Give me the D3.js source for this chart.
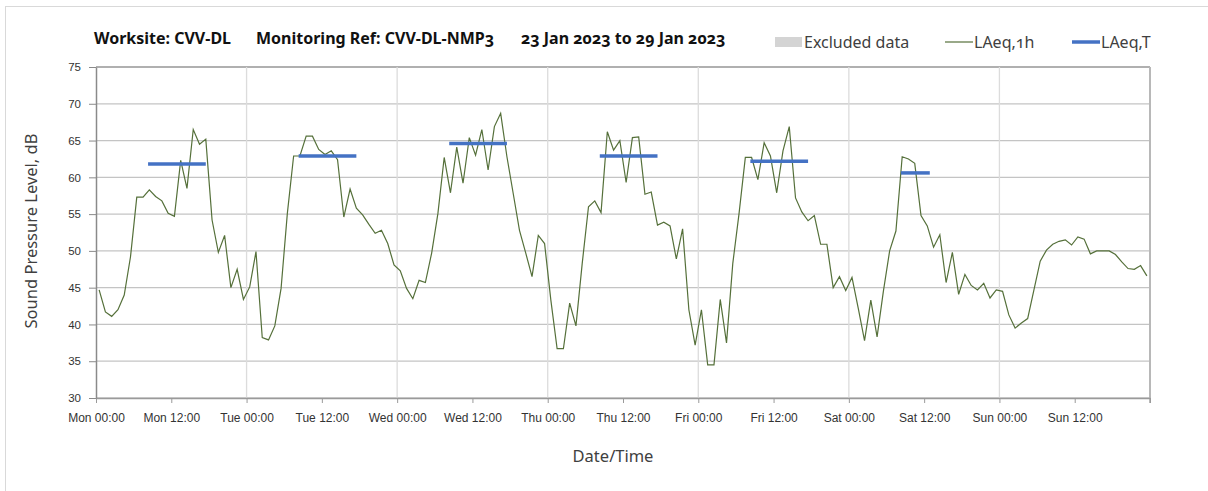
<!DOCTYPE html>
<html>
<head>
<meta charset="utf-8">
<script src="https://cdn.jsdelivr.net/npm/d3@7"></script>
<style>
	body { margin: 0; background: #fff; }
	svg { display: block; font-family: "Noto Sans", "Open Sans", sans-serif; font-variant-numeric: oldstyle-nums; }
</style>
</head>
<body>
<div id="container"></div>
<script>
//// Noise monitoring chart D3.js ////

// Hourly LAeq,1h values, Mon 23 Jan 2023 00:00 onwards
const laeq1h = [
	44.7, 41.7, 41.1, 42.0, 44.0, 49.2, 57.3, 57.3, 58.3, 57.4,
	56.8, 55.1, 54.7, 62.3, 58.5, 66.5, 64.5, 65.2, 54.2, 49.8,
	52.1, 45.0, 47.5, 43.4, 45.1, 49.9, 38.2, 37.9, 39.8, 44.9,
	55.1, 62.9, 62.9, 65.6, 65.6, 63.8, 63.1, 63.6, 62.4, 54.6,
	58.4, 55.8, 54.9, 53.6, 52.4, 52.8, 51.0, 48.1, 47.3, 44.9,
	43.5, 46.0, 45.7, 49.7, 55.1, 62.7, 57.9, 64.1, 59.2, 65.4,
	63.0, 66.5, 61.0, 66.9, 68.7, 62.8, 57.8, 52.8, 49.7, 46.5,
	52.1, 51.0, 43.3, 36.7, 36.7, 42.9, 39.8, 48.3, 56.0, 56.8,
	55.2, 66.2, 63.7, 65.0, 59.3, 65.4, 65.5, 57.7, 58.0, 53.5,
	53.9, 53.4, 48.9, 53.0, 42.0, 37.2, 42.0, 34.5, 34.5, 43.4,
	37.5, 48.3, 55.1, 62.7, 62.7, 59.7, 64.7, 62.9, 57.9, 63.6,
	66.9, 57.2, 55.3, 54.1, 54.8, 50.9, 50.9, 45.0, 46.5, 44.6,
	46.4, 42.2, 37.8, 43.3, 38.3, 44.5, 50.0, 52.7, 62.8, 62.5,
	61.9, 54.8, 53.4, 50.5, 52.2, 45.7, 49.8, 44.1, 46.8, 45.3,
	44.7, 45.6, 43.6, 44.7, 44.5, 41.3, 39.5, 40.2, 40.8, 44.7,
	48.6, 50.1, 50.9, 51.3, 51.5, 50.8, 51.9, 51.6, 49.6, 50.0,
	50.0, 50.0, 49.5, 48.5, 47.6, 47.5, 48.0, 46.6
];

// Daytime LAeq,T per day (Mon..Sat), start / end hour of each period
const periodDay   = [0, 1, 2, 3, 4, 5];
const periodValue = [61.8, 62.9, 64.6, 62.9, 62.2, 60.6];
const periodStart = [8.3, 8.3, 8.3, 8.3, 8.3, 8.3];
const periodEnd   = [17.5, 17.5, 17.5, 17.5, 17.5, 12.9];

const tickLabels = ["Mon 00:00", "Mon 12:00", "Tue 00:00", "Tue 12:00", "Wed 00:00", "Wed 12:00",
	"Thu 00:00", "Thu 12:00", "Fri 00:00", "Fri 12:00", "Sat 00:00", "Sat 12:00", "Sun 00:00", "Sun 12:00", ""];
const yTicks = [30, 35, 40, 45, 50, 55, 60, 65, 70, 75];

const legendItems = ["Excluded data", "LAeq,1h", "LAeq,T"];

const width = 1208, height = 491;
const plotLeft = 96, plotRight = 1150, plotTop = 67, plotBottom = 398;

const t0 = new Date(Date.UTC(2023, 0, 23));
const hour = h => new Date(t0.getTime() + h * 3600e3);

// Scales
const x = d3.scaleUtc().domain([t0, hour(168)]).range([plotLeft, plotRight]);
const y = d3.scaleLinear().domain([30, 75]).range([plotBottom, plotTop]);

const svg = d3.select("#container").append("svg")
	.attr("width", width)
	.attr("height", height);

// outer frame
svg.append("rect")
	.attr("x", 5.5).attr("y", 6.5)
	.attr("width", 1210).attr("height", 500)
	.attr("fill", "none").attr("stroke", "#d9d9d9");

// horizontal gridlines
svg.append("g")
	.selectAll("line")
	.data(yTicks)
	.join("line")
	.attr("x1", plotLeft).attr("x2", plotRight)
	.attr("y1", d => y(d)).attr("y2", d => y(d))
	.attr("stroke", d => d == 75 ? "#b0b0b0" : "#c4c4c4")
	.attr("stroke-width", d => d == 75 ? 2 : 1.3);

// vertical gridlines at midnight
const dayTicks = d3.range(1, 7).map(d => hour(d * 24));
svg.append("g")
	.selectAll("line")
	.data(dayTicks)
	.join("line")
	.attr("x1", d => x(d)).attr("x2", d => x(d))
	.attr("y1", plotTop).attr("y2", plotBottom)
	.attr("stroke", "#dcdcdc")
	.attr("stroke-width", 1.3);

// right border
svg.append("line")
	.attr("x1", plotRight).attr("x2", plotRight)
	.attr("y1", plotTop).attr("y2", plotBottom + 5)
	.attr("stroke", "#b8b8b8")
	.attr("stroke-width", 2);

// x axis
const xTicks = d3.range(0, 15).map(i => hour(i * 12));
const xAxis = svg.append("g")
	.attr("transform", `translate(0,${plotBottom})`)
	.call(d3.axisBottom(x).tickValues(xTicks).tickFormat((d, i) => tickLabels[i]).tickSize(5).tickPadding(10).tickSizeOuter(0));
xAxis.select(".domain").attr("stroke", "#9a9a9a").attr("stroke-width", 1.5);
xAxis.selectAll(".tick line").attr("stroke", "#9a9a9a");
xAxis.selectAll("text").attr("font-size", 12).attr("fill", "#333");

// y axis
const yAxis = svg.append("g")
	.attr("transform", `translate(${plotLeft},0)`)
	.call(d3.axisLeft(y).tickValues(yTicks).tickSize(7).tickPadding(8).tickSizeOuter(0));
yAxis.select(".domain").attr("stroke", "#8a8a8a").attr("stroke-width", 1.5);
yAxis.selectAll(".tick line").attr("stroke", "#8a8a8a");
yAxis.selectAll("text").attr("font-size", 11.5).attr("fill", "#333");

// LAeq,1h line
const line = d3.line()
	.x((d, i) => x(hour(i + 0.5)))
	.y(d => y(d));

svg.append("path")
	.datum(laeq1h)
	.attr("d", line)
	.attr("fill", "none")
	.attr("stroke", "#55703a")
	.attr("stroke-width", 1.2)
	.attr("stroke-linejoin", "miter");

// LAeq,T bars
svg.append("g")
	.selectAll("line")
	.data(periodDay)
	.join("line")
	.attr("x1", (d, i) => x(hour(d * 24 + periodStart[i])))
	.attr("x2", (d, i) => x(hour(d * 24 + periodEnd[i])))
	.attr("y1", (d, i) => y(periodValue[i]))
	.attr("y2", (d, i) => y(periodValue[i]))
	.attr("stroke", "#4472c4")
	.attr("stroke-width", 3.5);

// Title
const title = svg.append("g")
	.attr("font-weight", "bold")
	.attr("font-size", 16)
	.attr("fill", "#111");
title.append("text").attr("x", 94).attr("y", 44).text("Worksite: CVV-DL");
title.append("text").attr("x", 256).attr("y", 44).text("Monitoring Ref: CVV-DL-NMP3");
title.append("text").attr("x", 521).attr("y", 44).text("23 Jan 2023 to 29 Jan 2023");

// Legend
const legend = svg.append("g").attr("font-size", 16).attr("fill", "#404040");
legend.append("rect")
	.attr("x", 775).attr("y", 37).attr("width", 27).attr("height", 10)
	.attr("fill", "#d4d4d4");
legend.append("line")
	.attr("x1", 945).attr("x2", 973).attr("y1", 42).attr("y2", 42)
	.attr("stroke", "#55703a").attr("stroke-width", 1.2);
legend.append("line")
	.attr("x1", 1072).attr("x2", 1100).attr("y1", 42).attr("y2", 42)
	.attr("stroke", "#4472c4").attr("stroke-width", 3.5);
legend.selectAll("text")
	.data(legendItems)
	.join("text")
	.attr("x", (d, i) => [804, 974, 1101][i])
	.attr("y", 48)
	.text(d => d);

// Axis titles
svg.append("text")
	.attr("transform", "translate(37,231) rotate(-90)")
	.attr("text-anchor", "middle")
	.attr("font-size", 16.5)
	.attr("fill", "#404040")
	.text("Sound Pressure Level, dB");

svg.append("text")
	.attr("x", 613).attr("y", 462)
	.attr("text-anchor", "middle")
	.attr("font-size", 16.5)
	.attr("fill", "#404040")
	.text("Date/Time");
</script>
</body>
</html>
